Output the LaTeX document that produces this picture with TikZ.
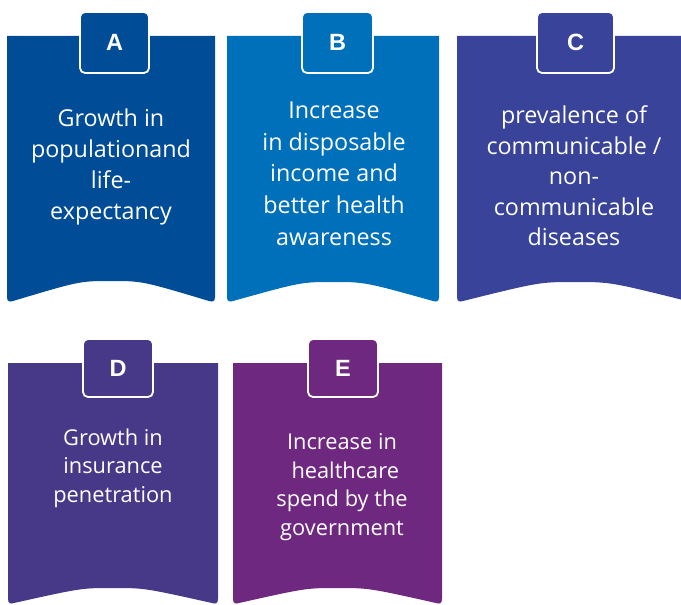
\documentclass[tikz,border=0pt]{standalone}
\usepackage{fontspec}
\setmainfont{Open Sans}
\newfontfamily\tabfont{Liberation Sans}
\definecolor{cA}{RGB}{0,76,151}
\definecolor{cB}{RGB}{0,112,186}
\definecolor{cC}{RGB}{56,67,153}
\definecolor{cD}{RGB}{72,57,136}
\definecolor{cE}{RGB}{110,40,128}
\newcommand\bannercard[6]{% color, L, R, T, B, h
  \pgfmathsetmacro\bcM{(#2+#3)/2}%
  \pgfmathsetmacro\bcH{(#3-#2)/2}%
  \fill[#1] (#2,#4) -- ({#2},{#5-5})
    .. controls ({#2},{#5}) and ({#2+3},{#5}) .. ({#2+6},{#5-1})
    .. controls ({\bcM-0.3*\bcH},{#5-#6}) .. ({\bcM},{#5-#6})
    .. controls ({\bcM+0.3*\bcH},{#5-#6}) .. ({#3-6},{#5-1})
    .. controls ({#3-3},{#5}) and ({#3},{#5}) .. ({#3},{#5-5})
    -- (#3,#4) -- cycle;%
}
\tikzset{
  tabbox/.style={draw=white, line width=1.8bp, rounded corners=5bp, text=white,
    font=\tabfont\bfseries\fontsize{23.5bp}{23.5bp}\selectfont, inner sep=0pt},
  bigtext/.style={text=white, align=center, inner sep=0pt,
    font=\fontsize{23.3bp}{31bp}\selectfont},
  smalltext/.style={text=white, align=center, inner sep=0pt,
    font=\fontsize{21.8bp}{28.5bp}\selectfont},
}
\begin{document}
\begin{tikzpicture}[x=1bp,y=-1bp]
\useasboundingbox (0,0) rectangle (681,605);
\clip (0,0) rectangle (681,605);
% cards
\bannercard{cA}{7}{215}{36}{302}{21}
\bannercard{cB}{227}{439}{36}{302}{20}
\bannercard{cC}{457}{693}{36}{302}{20}
\bannercard{cD}{8}{218}{363}{604}{16}
\bannercard{cE}{233}{442}{363}{604}{16}
% tabs
\node[tabbox, fill=cA, minimum width=69bp, minimum height=61bp] (tA) at (114.5,42.5) {A};
\node[tabbox, fill=cB, minimum width=71bp, minimum height=61bp] (tB) at (337.5,42.5) {B};
\node[tabbox, fill=cC, minimum width=77bp, minimum height=61bp] (tC) at (575.5,42.5) {C};
\node[tabbox, fill=cD, minimum width=70bp, minimum height=58bp] (tD) at (118,368) {D};
\node[tabbox, fill=cE, minimum width=70bp, minimum height=58bp] (tE) at (343,368) {E};
% texts
\node[bigtext] (xA) at (111,167) {Growth in\\populationand\\life-\\expectancy};
\node[bigtext, font=\fontsize{23.3bp}{31.7bp}\selectfont] (xB) at (334,173.5) {Increase\\in disposable\\income and\\better health\\awareness};
\node[bigtext, font=\fontsize{23.3bp}{30.5bp}\selectfont] (xC) at (574,176) {prevalence of\\communicable /\\non-\\communicable\\diseases};
\node[smalltext] (xD) at (113,468) {Growth in\\insurance\\penetration};
\node[smalltext] (xE) at (342,487) {Increase in\\\hspace{0.3em}healthcare\\spend by the\\government};
\end{tikzpicture}
\end{document}
